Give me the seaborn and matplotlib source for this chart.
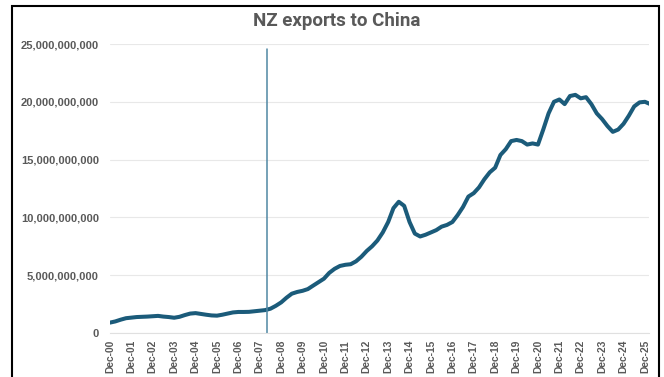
import matplotlib
matplotlib.use("Agg")
import matplotlib.pyplot as plt
import matplotlib.dates as mdates
from matplotlib.patches import Rectangle
from matplotlib.ticker import FuncFormatter
import numpy as np
import pandas as pd
import seaborn as sns

# Quarterly exports (NZD billions), Dec-00 .. Mar-26
exports_bn = [
    0.90, 1.00, 1.15, 1.28,
    1.33, 1.38, 1.40, 1.42,
    1.45, 1.48, 1.42, 1.38,
    1.32, 1.40, 1.55, 1.68,
    1.72, 1.65, 1.58, 1.52,
    1.50, 1.58, 1.68, 1.78,
    1.82, 1.82, 1.83, 1.88,
    1.93, 1.98, 2.10, 2.35,
    2.65, 3.05, 3.40, 3.55,
    3.65, 3.80, 4.10, 4.40,
    4.70, 5.20, 5.55, 5.80,
    5.90, 5.95, 6.20, 6.60,
    7.10, 7.50, 8.00, 8.70,
    9.60, 10.80, 11.35, 11.00,
    9.60, 8.60, 8.35, 8.50,
    8.70, 8.90, 9.20, 9.35,
    9.60, 10.20, 10.90, 11.80,
    12.10, 12.60, 13.30, 13.90,
    14.30, 15.40, 15.90, 16.60,
    16.70, 16.60, 16.30, 16.40,
    16.30, 17.60, 19.00, 20.00,
    20.20, 19.80, 20.50, 20.60,
    20.30, 20.40, 19.80, 19.00,
    18.50, 17.90, 17.40, 17.60,
    18.10, 18.80, 19.60, 19.95,
    20.00, 19.80,
]
fta_date = "2008-04-25"
title = "NZ exports to China"

dates = pd.date_range("2000-12-31", periods=len(exports_bn), freq="QE")
df = pd.DataFrame({"date": dates, "exports": np.array(exports_bn) * 1e9})

sns.set_style("white")
plt.rcParams["font.family"] = ["Liberation Sans", "DejaVu Sans"]

fig = plt.figure(figsize=(6.64, 3.77), dpi=100)
ax = fig.add_axes([110 / 664, 44 / 377, 539 / 664, 289 / 377])

sns.lineplot(data=df, x="date", y="exports", ax=ax, color="#1b5b7a", linewidth=2.9)
ax.plot([pd.Timestamp(fta_date)] * 2, [0, 24.6e9], color="#4f87a3", linewidth=1.1)

ax.set_ylim(0, 25e9)
ax.set_xlim(dates[0], dates[0] + pd.Timedelta(days=int(25.19 * 365.25)))
ax.set_yticks(np.arange(0, 25e9 + 1, 5e9))
ax.yaxis.set_major_formatter(FuncFormatter(lambda v, p: f"{v:,.0f}"))
dec_ticks = pd.date_range("2000-12-31", "2025-12-31", freq="YE")
ax.set_xticks(dec_ticks)
ax.xaxis.set_major_formatter(mdates.DateFormatter("%b-%y"))
ax.grid(axis="y", color="#e8e8e8", linewidth=0.8)
ax.tick_params(axis="y", length=0, pad=8, labelsize=8.0, labelcolor="#595959")
ax.tick_params(axis="x", length=0, pad=5, labelsize=7.4, labelcolor="#595959", rotation=90)
for lbl in ax.get_xticklabels() + ax.get_yticklabels():
    lbl.set_fontweight("bold")
ax.set_xlabel("")
ax.set_ylabel("")
for s in ["top", "right", "left"]:
    ax.spines[s].set_visible(False)
ax.spines["bottom"].set_color("#e0e0e0")
ax.spines["bottom"].set_linewidth(0.8)

fig.text(337 / 664, 1 - 21 / 377, title, ha="center", va="center",
         family=["Roboto", "DejaVu Sans"],
         fontsize=13.5, fontweight="bold", color="#595959")

fig.patches.append(Rectangle((12 / 664, -0.02), 647 / 664, 1.02 - 6 / 377,
                             transform=fig.transFigure, fill=False,
                             edgecolor="black", linewidth=1.5))

fig.savefig("out.png", dpi=100)
